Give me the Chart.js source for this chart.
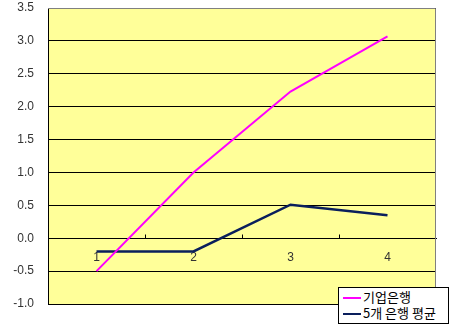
<!DOCTYPE html>
<html>
<head>
<meta charset="utf-8">
<script src="https://cdn.jsdelivr.net/npm/chart.js@4/dist/chart.umd.min.js"></script>
<style>
  body { margin: 0; background: #fff; }
  #wrap { position: relative; width: 450px; height: 324px; }
  #legend {
    position: absolute; left: 338px; top: 287px; width: 111px; height: 37px;
    border: 1px solid #000; background: #fff; box-sizing: border-box;
    font-family: "Noto Sans CJK KR", sans-serif; font-size: 13px; color: #000;
    padding-top: 1px;
  }
  #legend div { height: 16px; line-height: 16px; white-space: nowrap; }
  #legend span.sw { display: inline-block; width: 18px; height: 0; vertical-align: middle; margin: 0 2px 0 4px; }
</style>
</head>
<body>
<div id="wrap">
  <canvas id="myChart" width="450" height="324"></canvas>
  <div id="legend"></div>
</div>
<script>
// chart data
var categories = ['1', '2', '3', '4'];
var seriesNames = ['기업은행', '5개 은행 평균'];
var ibkValues = [-0.5, 1.0, 2.23, 3.07];
var avgValues = [-0.2, -0.2, 0.51, 0.35];
var lineColors = ['#ff00ff', '#0a1f5c'];

// yellow plot background + gray frame + upward ticks on the zero line
var plotDecor = {
    id: 'plotDecor',
    beforeDraw: function(chart) {
        var a = chart.chartArea, ctx = chart.ctx;
        ctx.save();
        ctx.fillStyle = '#ffff99';
        ctx.fillRect(a.left, a.top, a.right - a.left, a.bottom - a.top);
        ctx.restore();
    },
    afterDatasetsDraw: function(chart) {
        var a = chart.chartArea, ctx = chart.ctx;
        var xs = chart.scales.x, ys = chart.scales.y;
        ctx.save();
        ctx.strokeStyle = '#808080';
        ctx.lineWidth = 1;
        ctx.beginPath();
        ctx.moveTo(a.left, a.top + 0.5);
        ctx.lineTo(a.right - 0.5, a.top + 0.5);
        ctx.lineTo(a.right - 0.5, a.bottom);
        ctx.stroke();
        var y0 = Math.round(ys.getPixelForValue(0)) + 0.5;
        ctx.strokeStyle = '#000';
        ctx.beginPath();
        for (var i = 1; i < categories.length; i++) {
            var x = Math.round((xs.getPixelForValue(i - 1) + xs.getPixelForValue(i)) / 2) + 0.5;
            ctx.moveTo(x, y0);
            ctx.lineTo(x, y0 - 4);
        }
        ctx.stroke();
        ctx.restore();
    }
};

var ctx = document.getElementById('myChart').getContext('2d');
var chart = new Chart(ctx, {
    type: 'line',
    data: {
        labels: categories,
        datasets: [{
            label: seriesNames[0],
            data: ibkValues,
            borderColor: lineColors[0],
            borderWidth: 2,
            pointRadius: 0,
            tension: 0
        }, {
            label: seriesNames[1],
            data: avgValues,
            borderColor: lineColors[1],
            borderWidth: 2.5,
            pointRadius: 0,
            tension: 0
        }]
    },
    options: {
        responsive: false,
        animation: false,
        layout: { padding: { left: 0, top: 8, right: 14, bottom: 20 } },
        plugins: { legend: { display: false }, tooltip: { enabled: false } },
        scales: {
            x: {
                position: { y: 0 },
                offset: true,
                afterFit: function(scale) { scale.height = 0; },
                grid: { display: false, drawTicks: false },
                border: { display: true, color: '#000', width: 1 },
                ticks: { padding: 12, color: '#333', font: { family: 'Liberation Sans', size: 12 } }
            },
            y: {
                min: -1,
                max: 3.5,
                afterFit: function(scale) { scale.width = 48; },
                grid: { color: '#000', lineWidth: 1, drawTicks: true, tickLength: 14, tickColor: 'rgba(0,0,0,0)' },
                border: { display: true, color: '#000', width: 1 },
                ticks: {
                    stepSize: 0.5,
                    padding: 0,
                    color: '#333',
                    font: { family: 'Liberation Sans', size: 12 },
                    callback: function(v) { return Number(v).toFixed(1); }
                }
            }
        }
    },
    plugins: [plotDecor]
});

// legend box overlapping the bottom right of the plot
var legend = document.getElementById('legend');
seriesNames.forEach(function(name, i) {
    var row = document.createElement('div');
    row.innerHTML = '<span class="sw" style="border-top:2px solid ' + lineColors[i] + '"></span>' + name;
    legend.appendChild(row);
});
</script>
</body>
</html>
